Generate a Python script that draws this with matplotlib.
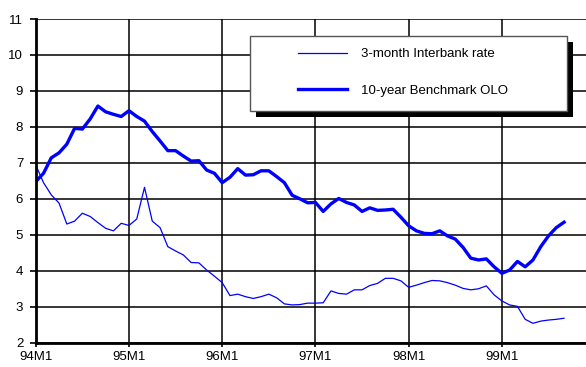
import matplotlib
matplotlib.use('Agg')
import numpy as np
import matplotlib.pyplot as plt
from matplotlib.patches import Rectangle

plt.rcParams['font.family'] = ['Liberation Sans', 'DejaVu Sans']

######################
# Data (monthly, starting 94M1)
interbank_3m = [6.94, 6.45, 6.11, 5.88, 5.30, 5.38, 5.60, 5.51, 5.34, 5.18, 5.11, 5.32,
                5.26, 5.44, 6.32, 5.38, 5.20, 4.67, 4.55, 4.44, 4.23, 4.22, 4.02, 3.85,
                3.67, 3.31, 3.35, 3.28, 3.23, 3.28, 3.35, 3.25, 3.08, 3.05, 3.06, 3.10,
                3.10, 3.11, 3.44, 3.37, 3.35, 3.47, 3.47, 3.59, 3.65, 3.79, 3.79, 3.72,
                3.54, 3.60, 3.67, 3.73, 3.72, 3.67, 3.60, 3.51, 3.47, 3.50, 3.58, 3.33,
                3.16, 3.05, 3.01, 2.65, 2.54, 2.60, 2.63, 2.65, 2.68]
olo_10y = [6.48, 6.71, 7.14, 7.28, 7.52, 7.96, 7.94, 8.22, 8.58, 8.42, 8.35, 8.29,
           8.45, 8.29, 8.16, 7.87, 7.61, 7.34, 7.34, 7.19, 7.05, 7.06, 6.80, 6.71,
           6.45, 6.60, 6.84, 6.66, 6.67, 6.78, 6.78, 6.62, 6.45, 6.10, 6.00, 5.89,
           5.90, 5.65, 5.86, 6.01, 5.90, 5.83, 5.65, 5.75, 5.68, 5.69, 5.71, 5.49,
           5.25, 5.11, 5.04, 5.03, 5.11, 4.97, 4.88, 4.65, 4.35, 4.30, 4.33, 4.11,
           3.93, 4.02, 4.26, 4.11, 4.30, 4.67, 4.97, 5.20, 5.35]
series_labels = ['3-month Interbank rate', '10-year Benchmark OLO']
year_labels = ['94M1', '95M1', '96M1', '97M1', '98M1', '99M1']
y_ticks = list(range(2, 12))

months = np.arange(len(olo_10y))
blue = '#0000ff'

# Figure
fig = plt.figure(figsize=(5.86, 3.67), dpi=100)
ax = fig.add_axes([0.061, 0.0662, 0.9413, 0.882])

l1, = ax.plot(months, interbank_3m, color=blue, lw=0.9, zorder=3)
l2, = ax.plot(months, olo_10y, color=blue, lw=2.4, zorder=3)

# Axes, ticks and grid
ax.set_xlim(0, 71)
ax.set_ylim(2, 11)
ax.set_yticks(y_ticks)
ax.set_xticks(np.arange(len(year_labels)) * 12)
ax.set_xticklabels(year_labels)
ax.tick_params(axis='both', direction='out', length=4, width=1.2,
               labelsize=9.5, colors='black', pad=5)
ax.tick_params(axis='x', length=3, pad=3)
ax.grid(True, color='black', lw=1.1)
ax.set_axisbelow(True)
for side in ['top', 'right']:
    ax.spines[side].set_visible(False)
for side in ['left', 'bottom']:
    ax.spines[side].set_linewidth(2)
    ax.spines[side].set_zorder(4)

# Legend box with a hard black shadow
box_x, box_y, box_w, box_h = 0.3885, 0.7158, 0.5747, 0.2326
ax.add_patch(Rectangle((box_x + 0.011, box_y - 0.0185), box_w, box_h,
                       transform=ax.transAxes, facecolor='black',
                       edgecolor='none', zorder=5, clip_on=False))
ax.add_patch(Rectangle((box_x, box_y), box_w, box_h,
                       transform=ax.transAxes, facecolor='white',
                       edgecolor='#555555', lw=1, zorder=6, clip_on=False))
leg = ax.legend([l1, l2], series_labels, loc='upper left',
                bbox_to_anchor=(0.475, 0.91), frameon=False, fontsize=9.5,
                borderpad=0, borderaxespad=0, handlelength=3.7,
                handletextpad=1.1, labelspacing=1.85)
leg.set_zorder(7)

fig.savefig('out.png', dpi=100)
